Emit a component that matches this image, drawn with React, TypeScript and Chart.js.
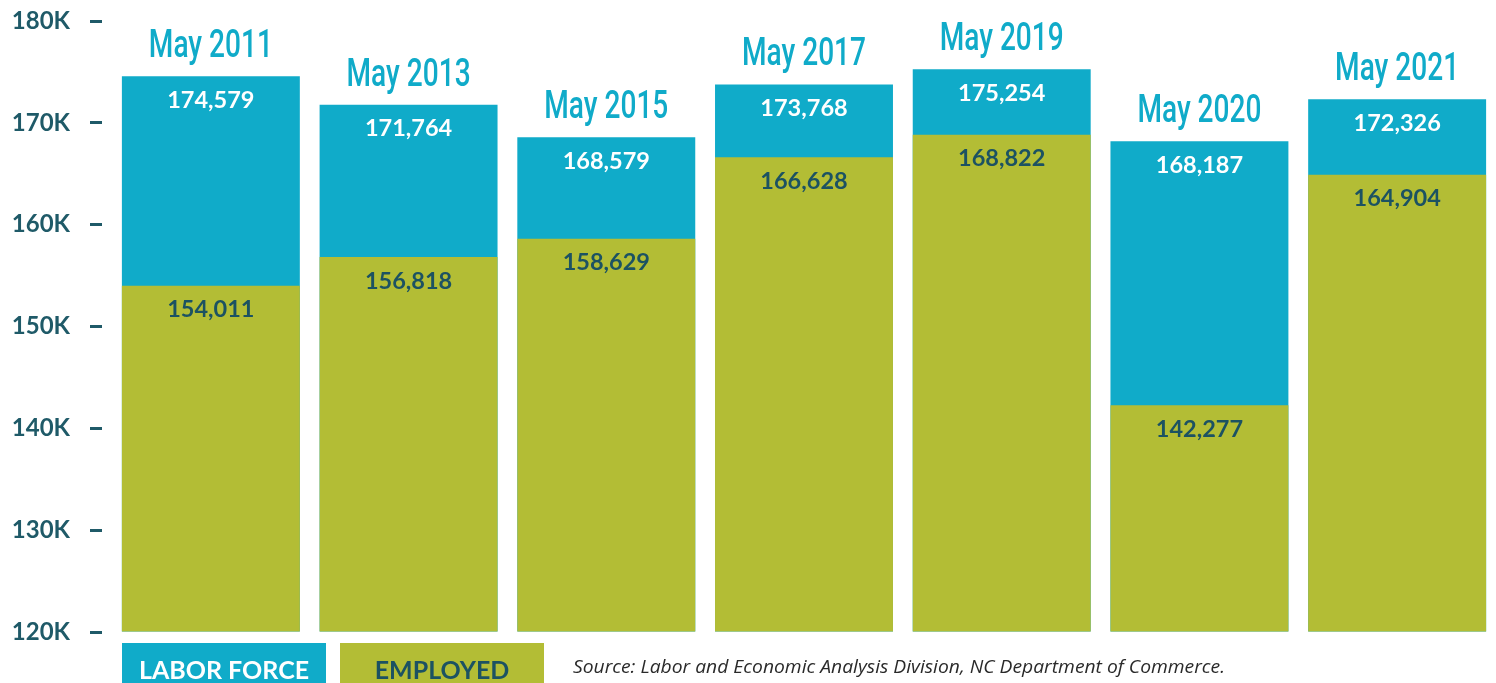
import React, { useEffect, useRef } from "react";
import { Chart, registerables } from "chart.js";

Chart.register(...registerables);

const categories = ["May 2011", "May 2013", "May 2015", "May 2017", "May 2019", "May 2020", "May 2021"];
const laborForce = [174579, 171764, 168579, 173768, 175254, 168187, 172326];
const employed = [154011, 156818, 158629, 166628, 168822, 142277, 164904];
const yMin = 120000;
const yMax = 180000;
const yStep = 10000;
const seriesNames = ["LABOR FORCE", "EMPLOYED"];
const sourceText = "Source: Labor and Economic Analysis Division, NC Department of Commerce.";

const TEAL = "#10abc9";
const OLIVE = "#b3bd35";
const DARK = "#1c5262";
const TICK = "#1f5a68";

const fmt = (v: number) => v.toLocaleString("en-US");

const labelsPlugin = {
  id: "customLabels",
  afterDatasetsDraw(chart: any) {
    const ctx = chart.ctx;
    const empMeta = chart.getDatasetMeta(0);
    const lfMeta = chart.getDatasetMeta(1);
    for (let i = 0; i < categories.length; i++) {
      const lb = lfMeta.data[i];
      const eb = empMeta.data[i];
      // year label
      ctx.save();
      ctx.font = "500 39px Roboto";
      ctx.fillStyle = TEAL;
      ctx.textAlign = "center";
      ctx.textBaseline = "alphabetic";
      ctx.translate(lb.x, lb.y - 19);
      ctx.scale(0.72, 1);
      ctx.fillText(categories[i], 0, 0);
      ctx.restore();
      // labor value
      ctx.save();
      ctx.font = "bold 23.5px Lato";
      ctx.textAlign = "center";
      ctx.textBaseline = "middle";
      ctx.fillStyle = "#ffffff";
      ctx.fillText(fmt(laborForce[i]), lb.x, lb.y + 24);
      ctx.fillStyle = DARK;
      ctx.fillText(fmt(employed[i]), eb.x, eb.y + 24);
      ctx.restore();
    }
  },
  afterDraw(chart: any) {
    const ctx = chart.ctx;
    const boxes = [
      { x: 122, w: 204, bg: TEAL, fg: "#ffffff", text: seriesNames[0] },
      { x: 340, w: 204, bg: OLIVE, fg: DARK, text: seriesNames[1] },
    ];
    ctx.save();
    for (const b of boxes) {
      ctx.fillStyle = b.bg;
      ctx.fillRect(b.x, 643, b.w, 40);
      ctx.fillStyle = b.fg;
      ctx.font = "bold 25px Lato";
      ctx.textAlign = "center";
      ctx.textBaseline = "alphabetic";
      ctx.fillText(b.text, b.x + b.w / 2, 679);
    }
    ctx.font = "italic 19px 'Open Sans'";
    ctx.fillStyle = "#2a2a2a";
    ctx.textAlign = "left";
    ctx.textBaseline = "middle";
    const w = ctx.measureText(sourceText).width;
    const target = 652;
    ctx.translate(573, 668);
    ctx.scale(target / w, 1);
    ctx.fillText(sourceText, 0, 0);
    ctx.restore();
  },
};

export default function App() {
  const ref = useRef<HTMLCanvasElement | null>(null);
  useEffect(() => {
    document.body.style.margin = "0";
    const canvas = ref.current;
    if (!canvas) return;
    const chart = new Chart(canvas, {
      type: "bar",
      data: {
        labels: categories,
        datasets: [
          {
            label: seriesNames[1],
            data: employed,
            backgroundColor: OLIVE,
            base: yMin,
            grouped: false,
            barPercentage: 0.9,
            categoryPercentage: 1,
            order: 0,
          } as any,
          {
            label: seriesNames[0],
            data: laborForce,
            backgroundColor: TEAL,
            base: yMin,
            grouped: false,
            barPercentage: 0.9,
            categoryPercentage: 1,
            order: 1,
          } as any,
        ],
      },
      options: {
        animation: false,
        responsive: false,
        maintainAspectRatio: false,
        layout: { padding: { top: 21, bottom: 51, left: 0, right: 0 } },
        plugins: {
          legend: { display: false },
          tooltip: { enabled: false },
        },
        scales: {
          x: { display: false },
          y: {
            min: yMin,
            max: yMax,
            border: { display: false },
            grid: {
              drawOnChartArea: false,
              drawTicks: true,
              tickLength: 22,
              tickWidth: 3,
              tickColor: TICK,
              tickBorderDash: [12, 40],
            },
            ticks: {
              stepSize: yStep,
              padding: 20,
              color: TICK,
              font: { family: "Lato", weight: "bold", size: 24 },
              callback: (v: any) => `${Number(v) / 1000}K`,
            },
            afterFit: (scale: any) => {
              scale.width = 112;
              scale.paddingTop = 0;
              scale.paddingBottom = 0;
            },
          },
        },
      },
      plugins: [labelsPlugin],
    });
    return () => chart.destroy();
  }, []);
  return (
    <div style={{ position: "absolute", left: 0, top: 0, width: 1496, height: 683, background: "#fff" }}>
      <canvas ref={ref} width={1496} height={683} style={{ display: "block" }} />
    </div>
  );
}
